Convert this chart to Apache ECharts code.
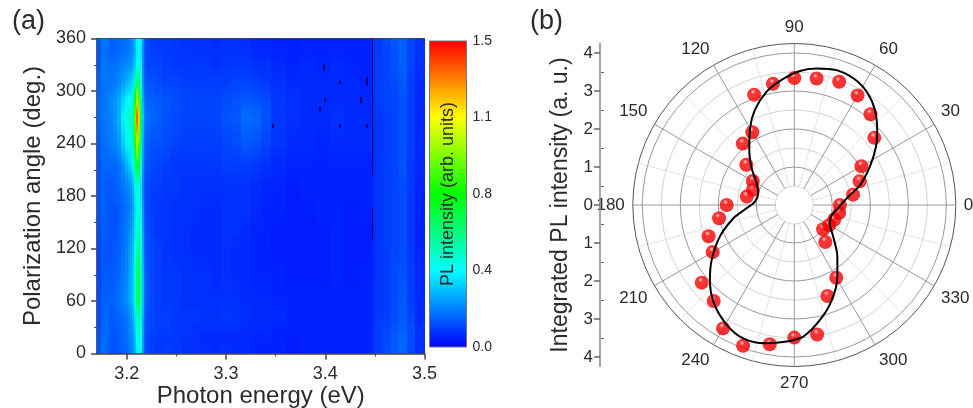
<!DOCTYPE html>
<html>
<head>
<meta charset="utf-8">
<title>PL map and polar plot</title>
<script src="https://cdn.jsdelivr.net/npm/echarts@6/dist/echarts.min.js"></script>
<style>
  html, body { margin: 0; padding: 0; background: #fff; }
  #chart { width: 973px; height: 408px; }
</style>
</head>
<body>
<div id="chart"></div>
<script>
// (a) PL map. Each energy band is one strip, rows are angles
const energyEdges = [
  3.170, 3.174, 3.178, 3.182, 3.186, 3.190, 3.194, 3.198, 3.201,
  3.203, 3.205, 3.207, 3.209, 3.211, 3.213, 3.215, 3.217, 3.219, 3.223,
  3.228, 3.235, 3.245, 3.255, 3.265, 3.275, 3.285, 3.295, 3.305, 3.315,
  3.325, 3.335, 3.345, 3.360, 3.375, 3.390, 3.405, 3.420, 3.435, 3.447,
  3.450, 3.458, 3.466, 3.474, 3.482, 3.490, 3.500
];
const mapAngles = [0, 15, 30, 45, 60, 90, 120, 140, 165, 190, 215, 240, 270, 290, 310, 330, 345, 360];
const intensity = [
  [.13,.17,.15,.12,.12,.13,.14,.15, .17,.18,.20,.26,.34,.40,.36,.22,.13,.10, .09,.08,.09,.08,.07,.07,.07,.06,.07,.06,.06,.05,.05,.05,.04,.05,.05,.05,.05,.05, .07,.09,.11,.14,.15,.11,.07],
  [.12,.16,.15,.13,.12,.13,.15,.16, .18,.20,.22,.28,.37,.44,.38,.23,.13,.10, .09,.08,.08,.08,.07,.07,.06,.06,.06,.06,.06,.05,.05,.05,.04,.05,.05,.05,.05,.05, .07,.09,.11,.13,.15,.11,.07],
  [.11,.15,.16,.13,.13,.14,.15,.17, .19,.21,.24,.32,.42,.48,.42,.24,.14,.11, .10,.09,.09,.08,.08,.07,.07,.07,.07,.07,.06,.06,.06,.05,.05,.05,.05,.05,.05,.05, .07,.09,.10,.12,.14,.11,.07],
  [.11,.14,.15,.13,.14,.15,.16,.18, .20,.22,.26,.34,.46,.52,.44,.26,.15,.11, .10,.09,.09,.08,.08,.08,.07,.07,.08,.07,.07,.06,.06,.06,.05,.05,.05,.05,.05,.05, .06,.08,.09,.11,.13,.10,.06],
  [.11,.14,.14,.14,.15,.17,.19,.21, .24,.26,.30,.42,.58,.64,.48,.28,.16,.12, .10,.09,.08,.08,.07,.07,.07,.07,.07,.07,.06,.06,.06,.05,.05,.05,.05,.05,.05,.05, .06,.08,.09,.11,.13,.09,.06],
  [.10,.13,.13,.13,.14,.15,.18,.20, .24,.26,.30,.42,.58,.64,.48,.28,.16,.12, .10,.09,.08,.08,.07,.07,.07,.06,.07,.06,.06,.05,.05,.05,.04,.04,.04,.05,.04,.05, .06,.08,.09,.11,.12,.09,.06],
  [.10,.13,.12,.12,.13,.14,.16,.19, .22,.24,.28,.36,.48,.55,.44,.25,.14,.11, .10,.09,.08,.07,.07,.06,.06,.06,.07,.06,.06,.05,.05,.04,.04,.04,.04,.05,.04,.04, .06,.08,.09,.10,.11,.08,.05],
  [.11,.14,.13,.12,.12,.14,.16,.18, .20,.22,.26,.34,.44,.48,.42,.24,.14,.11, .09,.08,.08,.07,.07,.06,.06,.06,.07,.07,.06,.05,.05,.04,.04,.04,.04,.05,.04,.04, .06,.08,.09,.10,.11,.08,.05],
  [.12,.15,.13,.12,.12,.13,.15,.17, .18,.20,.24,.32,.40,.42,.36,.22,.13,.10, .09,.08,.08,.07,.07,.07,.06,.06,.07,.07,.07,.06,.05,.05,.04,.04,.05,.05,.04,.05, .06,.08,.09,.10,.11,.08,.05],
  [.12,.14,.13,.13,.14,.15,.17,.19, .20,.22,.26,.36,.44,.42,.32,.19,.12,.10, .09,.09,.08,.08,.07,.07,.07,.07,.07,.07,.07,.06,.05,.05,.04,.05,.05,.05,.05,.05, .06,.08,.09,.10,.11,.08,.05],
  [.12,.15,.15,.15,.15,.17,.21,.26, .30,.32,.38,.54,.70,.64,.42,.22,.14,.12, .11,.10,.09,.08,.08,.08,.08,.08,.09,.09,.09,.08,.07,.06,.05,.05,.05,.05,.05,.05, .06,.08,.09,.10,.12,.08,.06],
  [.13,.16,.17,.18,.20,.23,.30,.36, .40,.42,.48,.78,1.02,.88,.54,.26,.16,.13, .12,.12,.11,.10,.09,.09,.09,.09,.10,.11,.13,.12,.10,.08,.06,.06,.05,.06,.06,.06, .06,.08,.09,.10,.12,.09,.06],
  [.15,.17,.18,.19,.22,.26,.36,.42, .45,.47,.52,.90,1.36,1.20,.66,.30,.19,.16, .15,.14,.12,.11,.10,.10,.10,.10,.12,.13,.16,.15,.12,.08,.07,.06,.06,.07,.06,.06, .07,.08,.09,.10,.12,.09,.06],
  [.15,.17,.18,.20,.22,.25,.31,.36, .38,.40,.46,.74,1.00,.88,.52,.26,.17,.14, .14,.13,.12,.11,.10,.10,.10,.10,.11,.12,.13,.12,.11,.08,.07,.06,.06,.06,.06,.06, .07,.09,.10,.10,.12,.09,.06],
  [.14,.17,.17,.17,.18,.20,.23,.26, .28,.30,.34,.46,.60,.58,.40,.22,.14,.12, .12,.11,.10,.10,.09,.09,.09,.09,.09,.10,.10,.09,.08,.07,.06,.06,.06,.06,.06,.05, .07,.09,.10,.11,.13,.09,.06],
  [.13,.18,.17,.16,.17,.18,.19,.20, .21,.22,.25,.30,.38,.42,.36,.20,.13,.10, .10,.10,.09,.08,.08,.08,.08,.07,.08,.08,.08,.07,.07,.06,.05,.06,.05,.06,.05,.05, .07,.09,.10,.12,.14,.10,.07],
  [.12,.17,.16,.14,.14,.15,.16,.17, .18,.19,.21,.26,.34,.38,.34,.20,.12,.10, .09,.09,.08,.08,.08,.07,.07,.07,.07,.07,.07,.06,.06,.05,.05,.05,.05,.05,.05,.05, .07,.09,.10,.12,.14,.10,.07],
  [.13,.18,.17,.14,.14,.15,.16,.17, .18,.20,.22,.28,.36,.40,.36,.22,.13,.10, .09,.08,.09,.08,.07,.07,.07,.06,.07,.07,.06,.05,.05,.05,.04,.05,.05,.05,.05,.05, .07,.09,.11,.13,.14,.10,.07]
];
// dark dead-pixel marks on the map: [energy, angle from, angle to]
const deadMarks = [
  [3.4472, 204, 360], [3.4472, 131, 167],
  [3.398, 323, 331], [3.4142, 308, 312], [3.441, 306, 316], [3.4354, 286, 293],
  [3.399, 288, 292], [3.394, 277, 282], [3.3468, 258, 262], [3.4143, 258, 262], [3.441, 258, 262]
];

// colour scale, the printed labels are rounded in the original
const scaleColors = ['#0000ff', '#00ffff', '#00ff00', '#ffff00', '#ff0000'];
const scaleTicks = [0, 0.375, 0.75, 1.125, 1.5];
const scaleLabels = ['0.0', '0.4', '0.8', '1.1', '1.5'];

// (b) polar plot
const dotAngles = [0, 10, 20, 30, 40, 50, 60, 70, 80, 90, 100, 110, 120, 130, 140, 150, 160, 170,
  180, 190, 200, 210, 220, 230, 240, 250, 260, 270, 280, 290, 300, 310, 320, 330, 340, 350];
const dotValues = [1.20, 1.57, 1.83, 2.04, 2.75, 3.12, 3.33, 3.45, 3.38, 3.34, 3.24, 3.09, 2.21, 2.11, 1.65, 1.26, 1.16, 1.27,
  1.78, 2.01, 2.40, 2.48, 3.18, 3.30, 3.75, 3.94, 3.72, 3.49, 3.46, 2.55, 2.21, 1.27, 0.99, 1.06, 1.12, 1.20];
const curveAngles = [0, 8.8, 16.9, 26.9, 35.5, 42.1, 49.7, 57.5, 65, 72.6, 80.7, 87.6, 95.8, 103.7, 112.5, 120, 129.3, 139.3, 150, 162, 175,
  185, 192.3, 203, 213.6, 221.6, 230.7, 240.6, 249, 258, 266.8, 273.9, 282.6, 291.5, 301, 309.8, 320.9, 332.8, 345, 355.7, 360];
const curveValues = [1.22, 1.44, 1.81, 2.23, 2.64, 2.94, 3.28, 3.54, 3.68, 3.72, 3.64, 3.53, 3.31, 3.07, 2.71, 2.33, 1.87, 1.48, 1.14, 1.00, 1.04,
  1.30, 1.64, 2.13, 2.61, 2.97, 3.34, 3.62, 3.76, 3.72, 3.60, 3.47, 3.10, 2.69, 2.20, 1.77, 1.32, 1.05, 1.02, 1.16, 1.22];
const radialTicks = [-4, -3, -2, -1, 0, 1, 2, 3, 4];
const radialMinorTicks = [-3.5, -2.5, -1.5, -0.5, 0.5, 1.5, 2.5, 3.5];
// circle colours from the hole out to the outer ring, minor and major in turn
const ringColors = ['#d4d4d4', '#999', '#d4d4d4', '#999', '#d4d4d4', '#999', '#d4d4d4', '#999', '#555'];

const font = 'Liberation Sans';
const textColor = '#2b2b2b';
const axisColor = '#444';

function scaleColor(v) {
  return echarts.color.lerp(Math.min(v / 1.5, 1), scaleColors);
}

function renderStrip(params, api) {
  const i = params.dataIndex;
  const a = api.coord([energyEdges[i], 360]);
  const b = api.coord([energyEdges[i + 1], 0]);
  const stops = mapAngles.map((ang, r) => ({ offset: 1 - ang / 360, color: scaleColor(intensity[r][i]) })).reverse();
  const x0 = Math.round(a[0]);
  const x1 = Math.round(b[0]);
  return {
    type: 'rect',
    shape: { x: x0, y: a[1], width: x1 - x0, height: b[1] - a[1] },
    style: { fill: new echarts.graphic.LinearGradient(0, 0, 0, 1, stops) }
  };
}

function renderDead(params, api) {
  const m = deadMarks[params.dataIndex];
  const a = api.coord([m[0], m[2]]);
  const b = api.coord([m[0], m[1]]);
  return {
    type: 'rect',
    shape: { x: Math.round(a[0]), y: a[1], width: params.dataIndex < 2 ? 1 : 2, height: b[1] - a[1] },
    style: { fill: params.dataIndex < 2 ? '#00105a' : '#00007a' }
  };
}

function renderScale(params, api) {
  const a = api.coord([0, 1.5]);
  const b = api.coord([1, 0]);
  const stops = scaleColors.map((c, i) => ({ offset: 1 - i / (scaleColors.length - 1), color: c })).reverse();
  return {
    type: 'rect',
    shape: { x: a[0], y: a[1], width: b[0] - a[0], height: b[1] - a[1] },
    style: { fill: new echarts.graphic.LinearGradient(0, 0, 0, 1, stops), stroke: '#777', lineWidth: 1 }
  };
}

const chart = echarts.init(document.getElementById('chart'), null, { renderer: 'canvas' });

chart.setOption({
  animation: false,
  backgroundColor: '#fff',
  textStyle: { fontFamily: font },
  grid: [
    { left: 97, top: 38.5, width: 327.5, height: 315, show: true, borderColor: axisColor, borderWidth: 1, backgroundColor: '#0030ff', outerBoundsMode: 'none' },
    { left: 429.5, top: 41, width: 37, height: 306, outerBoundsMode: 'none' },
    { left: 600, top: 43.5, width: 1, height: 323, outerBoundsMode: 'none' }
  ],
  xAxis: [
    {
      gridIndex: 0, type: 'value', min: 3.17, max: 3.5, position: 'bottom',
      axisLine: { lineStyle: { color: axisColor, width: 1.5 } },
      axisTick: { length: 6, lineStyle: { color: axisColor, width: 1.5 }, customValues: [3.2, 3.3, 3.4, 3.5] },
      axisLabel: { color: textColor, fontSize: 18, margin: 12, customValues: [3.2, 3.3, 3.4, 3.5], formatter: v => v.toFixed(1) },
      splitLine: { show: false },
      name: 'Photon energy (eV)', nameLocation: 'middle', nameGap: 31, nameMoveOverlap: false,
      nameTextStyle: { color: textColor, fontSize: 24 }
    },
    {
      gridIndex: 0, type: 'value', min: 3.17, max: 3.5, position: 'bottom',
      axisLine: { show: false },
      axisTick: { length: 3, lineStyle: { color: axisColor, width: 1 }, customValues: [3.25, 3.35, 3.45] },
      axisLabel: { show: false }, splitLine: { show: false }
    },
    { gridIndex: 1, type: 'value', min: 0, max: 1, show: false },
    { gridIndex: 2, type: 'value', min: 0, max: 1, show: false }
  ],
  yAxis: [
    {
      gridIndex: 0, type: 'value', min: 0, max: 360, interval: 60,
      axisLine: { lineStyle: { color: axisColor, width: 1.5 } },
      axisTick: { length: 6, lineStyle: { color: axisColor, width: 1.5 } },
      minorTick: { show: true, splitNumber: 2, length: 3, lineStyle: { color: axisColor } },
      axisLabel: { color: textColor, fontSize: 18, margin: 11 },
      splitLine: { show: false },
      name: 'Polarization angle (deg.)', nameLocation: 'middle', nameGap: 52, nameRotate: 90, nameMoveOverlap: false,
      nameTextStyle: { color: textColor, fontSize: 24 }
    },
    {
      gridIndex: 1, type: 'value', min: 0, max: 1.5, position: 'right', z: 10,
      axisLine: { show: false }, axisTick: { show: false }, splitLine: { show: false },
      axisLabel: {
        color: textColor, fontSize: 14, margin: 6, customValues: scaleTicks,
        formatter: v => scaleLabels[scaleTicks.indexOf(v)]
      },
      name: 'PL intensity (arb. units)', nameLocation: 'middle', nameGap: -27, nameRotate: 90, nameMoveOverlap: false,
      nameTextStyle: { color: textColor, fontSize: 18 }
    },
    {
      gridIndex: 2, type: 'value', min: -4.25, max: 4.25,
      axisLine: { lineStyle: { color: '#888', width: 1.5 } },
      axisTick: { length: 6, lineStyle: { color: '#666', width: 1.5 }, customValues: radialTicks },
      axisLabel: { color: textColor, fontSize: 17, margin: 7, customValues: radialTicks, formatter: v => String(Math.abs(v)) },
      splitLine: { show: false },
      name: 'Integrated PL intensity (a. u.)', nameLocation: 'middle', nameGap: 28, nameRotate: 90, nameMoveOverlap: false,
      nameTextStyle: { color: textColor, fontSize: 23 }
    },
    {
      gridIndex: 2, type: 'value', min: -4.25, max: 4.25,
      axisLine: { show: false },
      axisTick: { length: 3, lineStyle: { color: '#666' }, customValues: radialMinorTicks },
      axisLabel: { show: false }, splitLine: { show: false }
    }
  ],
  polar: { center: [794.3, 205], radius: [19, 161.5] },
  angleAxis: {
    type: 'value', min: 0, max: 360, interval: 30, startAngle: 0, clockwise: false,
    axisLine: { show: false },
    axisTick: { show: false },
    minorTick: { show: false, splitNumber: 2 },
    axisLabel: { color: textColor, fontSize: 17, margin: 8 },
    splitLine: { show: true, lineStyle: { color: '#999', width: 1 } },
    minorSplitLine: { show: true, lineStyle: { color: '#ccc', type: 'dotted', width: 1 } }
  },
  radiusAxis: {
    type: 'value', min: 0.5, max: 4.25, interval: 0.5,
    axisLine: { show: false }, axisTick: { show: false }, axisLabel: { show: false },
    splitLine: { show: true, lineStyle: { color: ringColors, width: 1 } }
  },
  series: [
    {
      type: 'custom', xAxisIndex: 0, yAxisIndex: 0, silent: true, clip: true,
      data: energyEdges.slice(0, -1).map((e, i) => [e, energyEdges[i + 1]]),
      encode: { x: [0, 1] },
      renderItem: renderStrip
    },
    {
      type: 'custom', xAxisIndex: 0, yAxisIndex: 0, silent: true, clip: true, z: 3,
      data: deadMarks,
      encode: { x: 0, y: [1, 2] },
      renderItem: renderDead
    },
    {
      type: 'custom', xAxisIndex: 2, yAxisIndex: 1, silent: true,
      data: [[0, 0]],
      renderItem: renderScale
    },
    {
      type: 'scatter', coordinateSystem: 'polar', symbol: 'circle', symbolSize: 14, silent: true, z: 3,
      data: dotValues.map((v, i) => [v, dotAngles[i]]),
      itemStyle: {
        color: {
          type: 'radial', x: 0.42, y: 0.3, r: 0.72,
          colorStops: [
            { offset: 0, color: '#ffd8d8' },
            { offset: 0.12, color: '#ff6060' },
            { offset: 0.26, color: '#ff0000' },
            { offset: 0.85, color: '#f00000' },
            { offset: 1, color: '#c00000' }
          ]
        }
      }
    },
    {
      type: 'line', coordinateSystem: 'polar', smooth: 0.3, showSymbol: false, silent: true, z: 4,
      data: curveValues.map((v, i) => [v, curveAngles[i]]),
      lineStyle: { color: '#000', width: 2 }
    }
  ],
  graphic: [
    { type: 'text', left: 12, top: 8, style: { text: '(a)', fontFamily: font, fontSize: 27, fill: textColor } },
    { type: 'text', left: 530, top: 8, style: { text: '(b)', fontFamily: font, fontSize: 27, fill: textColor } }
  ]
});
</script>
</body>
</html>
